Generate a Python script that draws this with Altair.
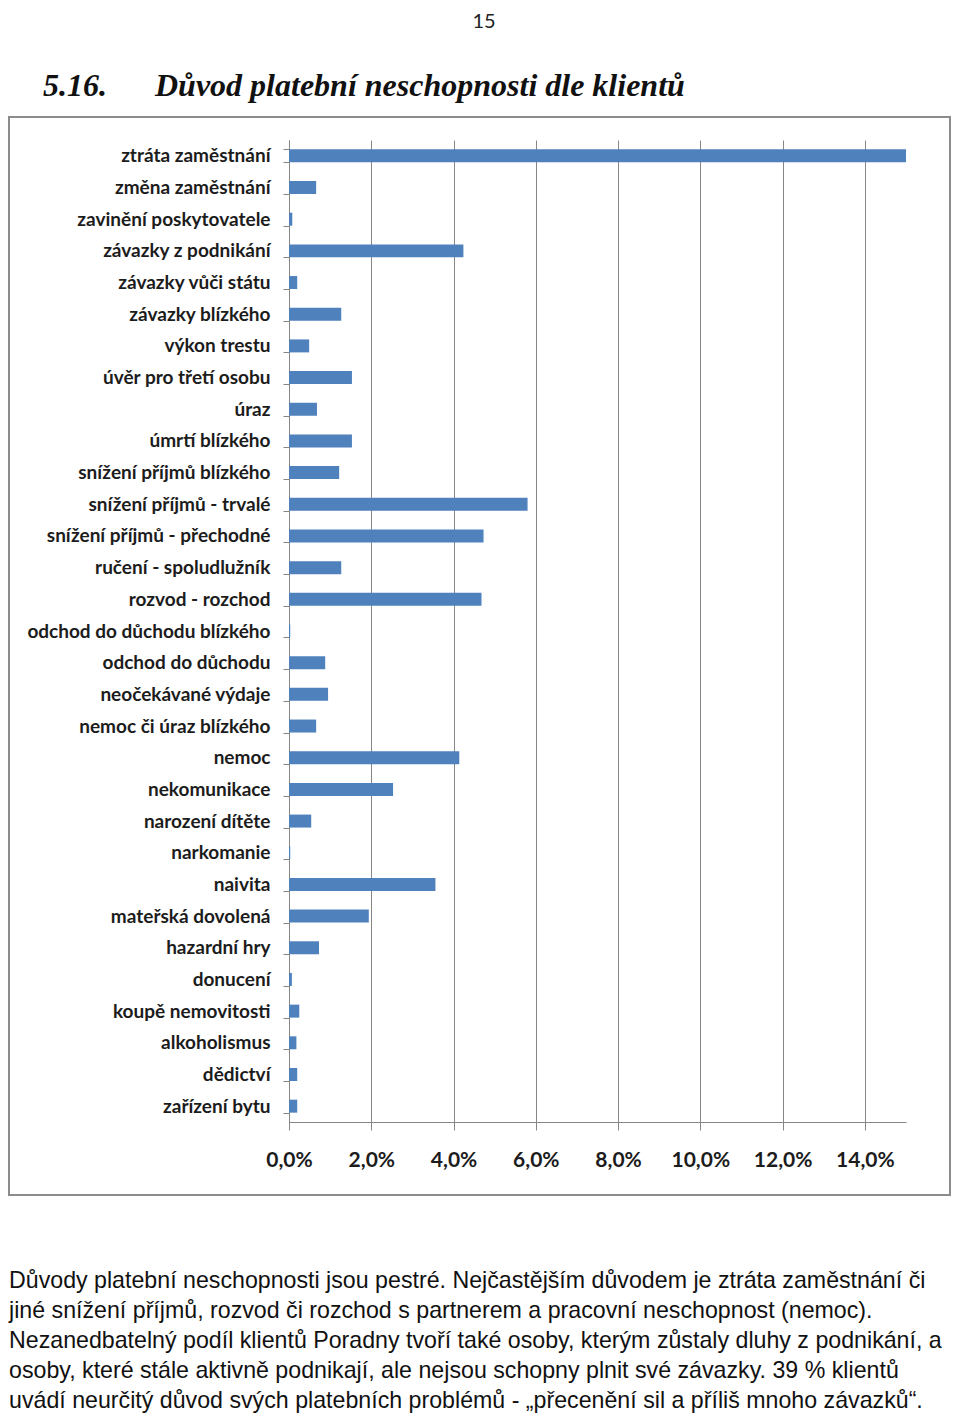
import altair as alt
import pandas as pd

categories = [
    "ztráta zaměstnání", "změna zaměstnání", "zavinění poskytovatele",
    "závazky z podnikání", "závazky vůči státu", "závazky blízkého",
    "výkon trestu", "úvěr pro třetí osobu", "úraz", "úmrtí blízkého",
    "snížení příjmů blízkého", "snížení příjmů - trvalé",
    "snížení příjmů - přechodné", "ručení - spoludlužník", "rozvod - rozchod",
    "odchod do důchodu blízkého", "odchod do důchodu", "neočekávané výdaje",
    "nemoc či úraz blízkého", "nemoc", "nekomunikace", "narození dítěte",
    "narkomanie", "naivita", "mateřská dovolená", "hazardní hry", "donucení",
    "koupě nemovitosti", "alkoholismus", "dědictví", "zařízení bytu",
]
values = [
    0.1500, 0.0066, 0.0008, 0.0424, 0.0020, 0.0127,
    0.0049, 0.0153, 0.0068, 0.0153,
    0.0122, 0.0580,
    0.0473, 0.0127, 0.0468,
    0.0003, 0.0088, 0.0095,
    0.0066, 0.0414, 0.0253, 0.0054,
    0.0003, 0.0356, 0.0194, 0.0073, 0.0007,
    0.0025, 0.0018, 0.0020, 0.0020,
]
x_ticks = [0.0, 0.02, 0.04, 0.06, 0.08, 0.10, 0.12, 0.14]

page_number = "15"
section_number = "5.16."
section_title = "Důvod platební neschopnosti dle klientů"
paragraph_lines = [
    "Důvody platební neschopnosti jsou pestré. Nejčastějším důvodem je ztráta zaměstnání či",
    "jiné snížení příjmů, rozvod či rozchod s partnerem a pracovní neschopnost (nemoc).",
    "Nezanedbatelný podíl klientů Poradny tvoří také osoby, kterým zůstaly dluhy z podnikání, a",
    "osoby, které stále aktivně podnikají, ale nejsou schopny plnit své závazky. 39 % klientů",
    "uvádí neurčitý důvod svých platebních problémů - „přecenění sil a příliš mnoho závazků“.",
]

df = pd.DataFrame({"category": categories, "value": values})
one = pd.DataFrame({"k": [0]})

# plot origin sits at page (289, 140)
OX, OY = 289, 140
GRAY = "#868686"
LABEL = "#1c1c1c"

bars = alt.Chart(df).mark_bar(color="#4F81BD").encode(
    x=alt.X(
        "value:Q",
        scale=alt.Scale(domain=[0, 0.15], nice=False, zero=True),
        axis=alt.Axis(
            values=x_ticks,
            grid=True, gridColor=GRAY, gridWidth=1, gridOpacity=1,
            domainColor=GRAY, domainWidth=1,
            tickColor=GRAY, tickSize=8, tickWidth=1,
            labelExpr="replace(format(datum.value, '.1%'), '.', ',')",
            labelFont="Lato", labelFontWeight="bold", labelFontSize=21,
            labelColor=LABEL, labelPadding=19, labelFlush=False,
            labelOverlap=False, title=None,
        ),
    ),
    y=alt.Y(
        "category:N",
        sort=categories,
        scale=alt.Scale(paddingInner=0.59, paddingOuter=0.295),
        axis=alt.Axis(
            grid=False, domainColor=GRAY, domainWidth=1,
            tickColor=GRAY, tickSize=6, tickWidth=1, tickBand="extent",
            labelFont="Lato", labelFontWeight="bold", labelFontSize=19,
            labelColor=LABEL, labelPadding=13, labelLimit=320, title=None,
        ),
    ),
)

border = alt.Chart(one).mark_rect(
    fillOpacity=0, stroke="#8c8c8c", strokeWidth=2
).encode(
    x=alt.value(9 - OX), x2=alt.value(950 - OX),
    y=alt.value(117 - OY), y2=alt.value(1195 - OY),
)

page_num = alt.Chart(one).mark_text(
    align="center", baseline="alphabetic", font="Lato", fontSize=20, color="#222222"
).encode(x=alt.value(484 - OX), y=alt.value(28 - OY), text=alt.value(page_number))

sec_num = alt.Chart(one).mark_text(
    align="left", baseline="alphabetic", font="Liberation Serif",
    fontSize=32, fontWeight="bold", fontStyle="italic", color="#111111"
).encode(x=alt.value(43 - OX), y=alt.value(96 - OY), text=alt.value(section_number))

sec_title = alt.Chart(one).mark_text(
    align="left", baseline="alphabetic", font="Liberation Serif",
    fontSize=32, fontWeight="bold", fontStyle="italic", color="#111111"
).encode(x=alt.value(155 - OX), y=alt.value(96 - OY), text=alt.value(section_title))

para = alt.Chart(one).mark_text(
    align="left", baseline="alphabetic", font="Liberation Sans",
    fontSize=23.2, color="#111111", lineBreak="\n", lineHeight=30
).encode(x=alt.value(9 - OX), y=alt.value(1288 - OY), text=alt.value("\n".join(paragraph_lines)))

chart = alt.layer(border, bars, page_num, sec_num, sec_title, para).properties(
    width=617, height=982,
    padding={"left": 281, "top": 132, "right": 46, "bottom": 294},
    autosize=alt.AutoSizeParams(type="none"),
).configure_view(stroke=None)

chart.save("out.html", embed_options={"renderer": "svg", "actions": False})
